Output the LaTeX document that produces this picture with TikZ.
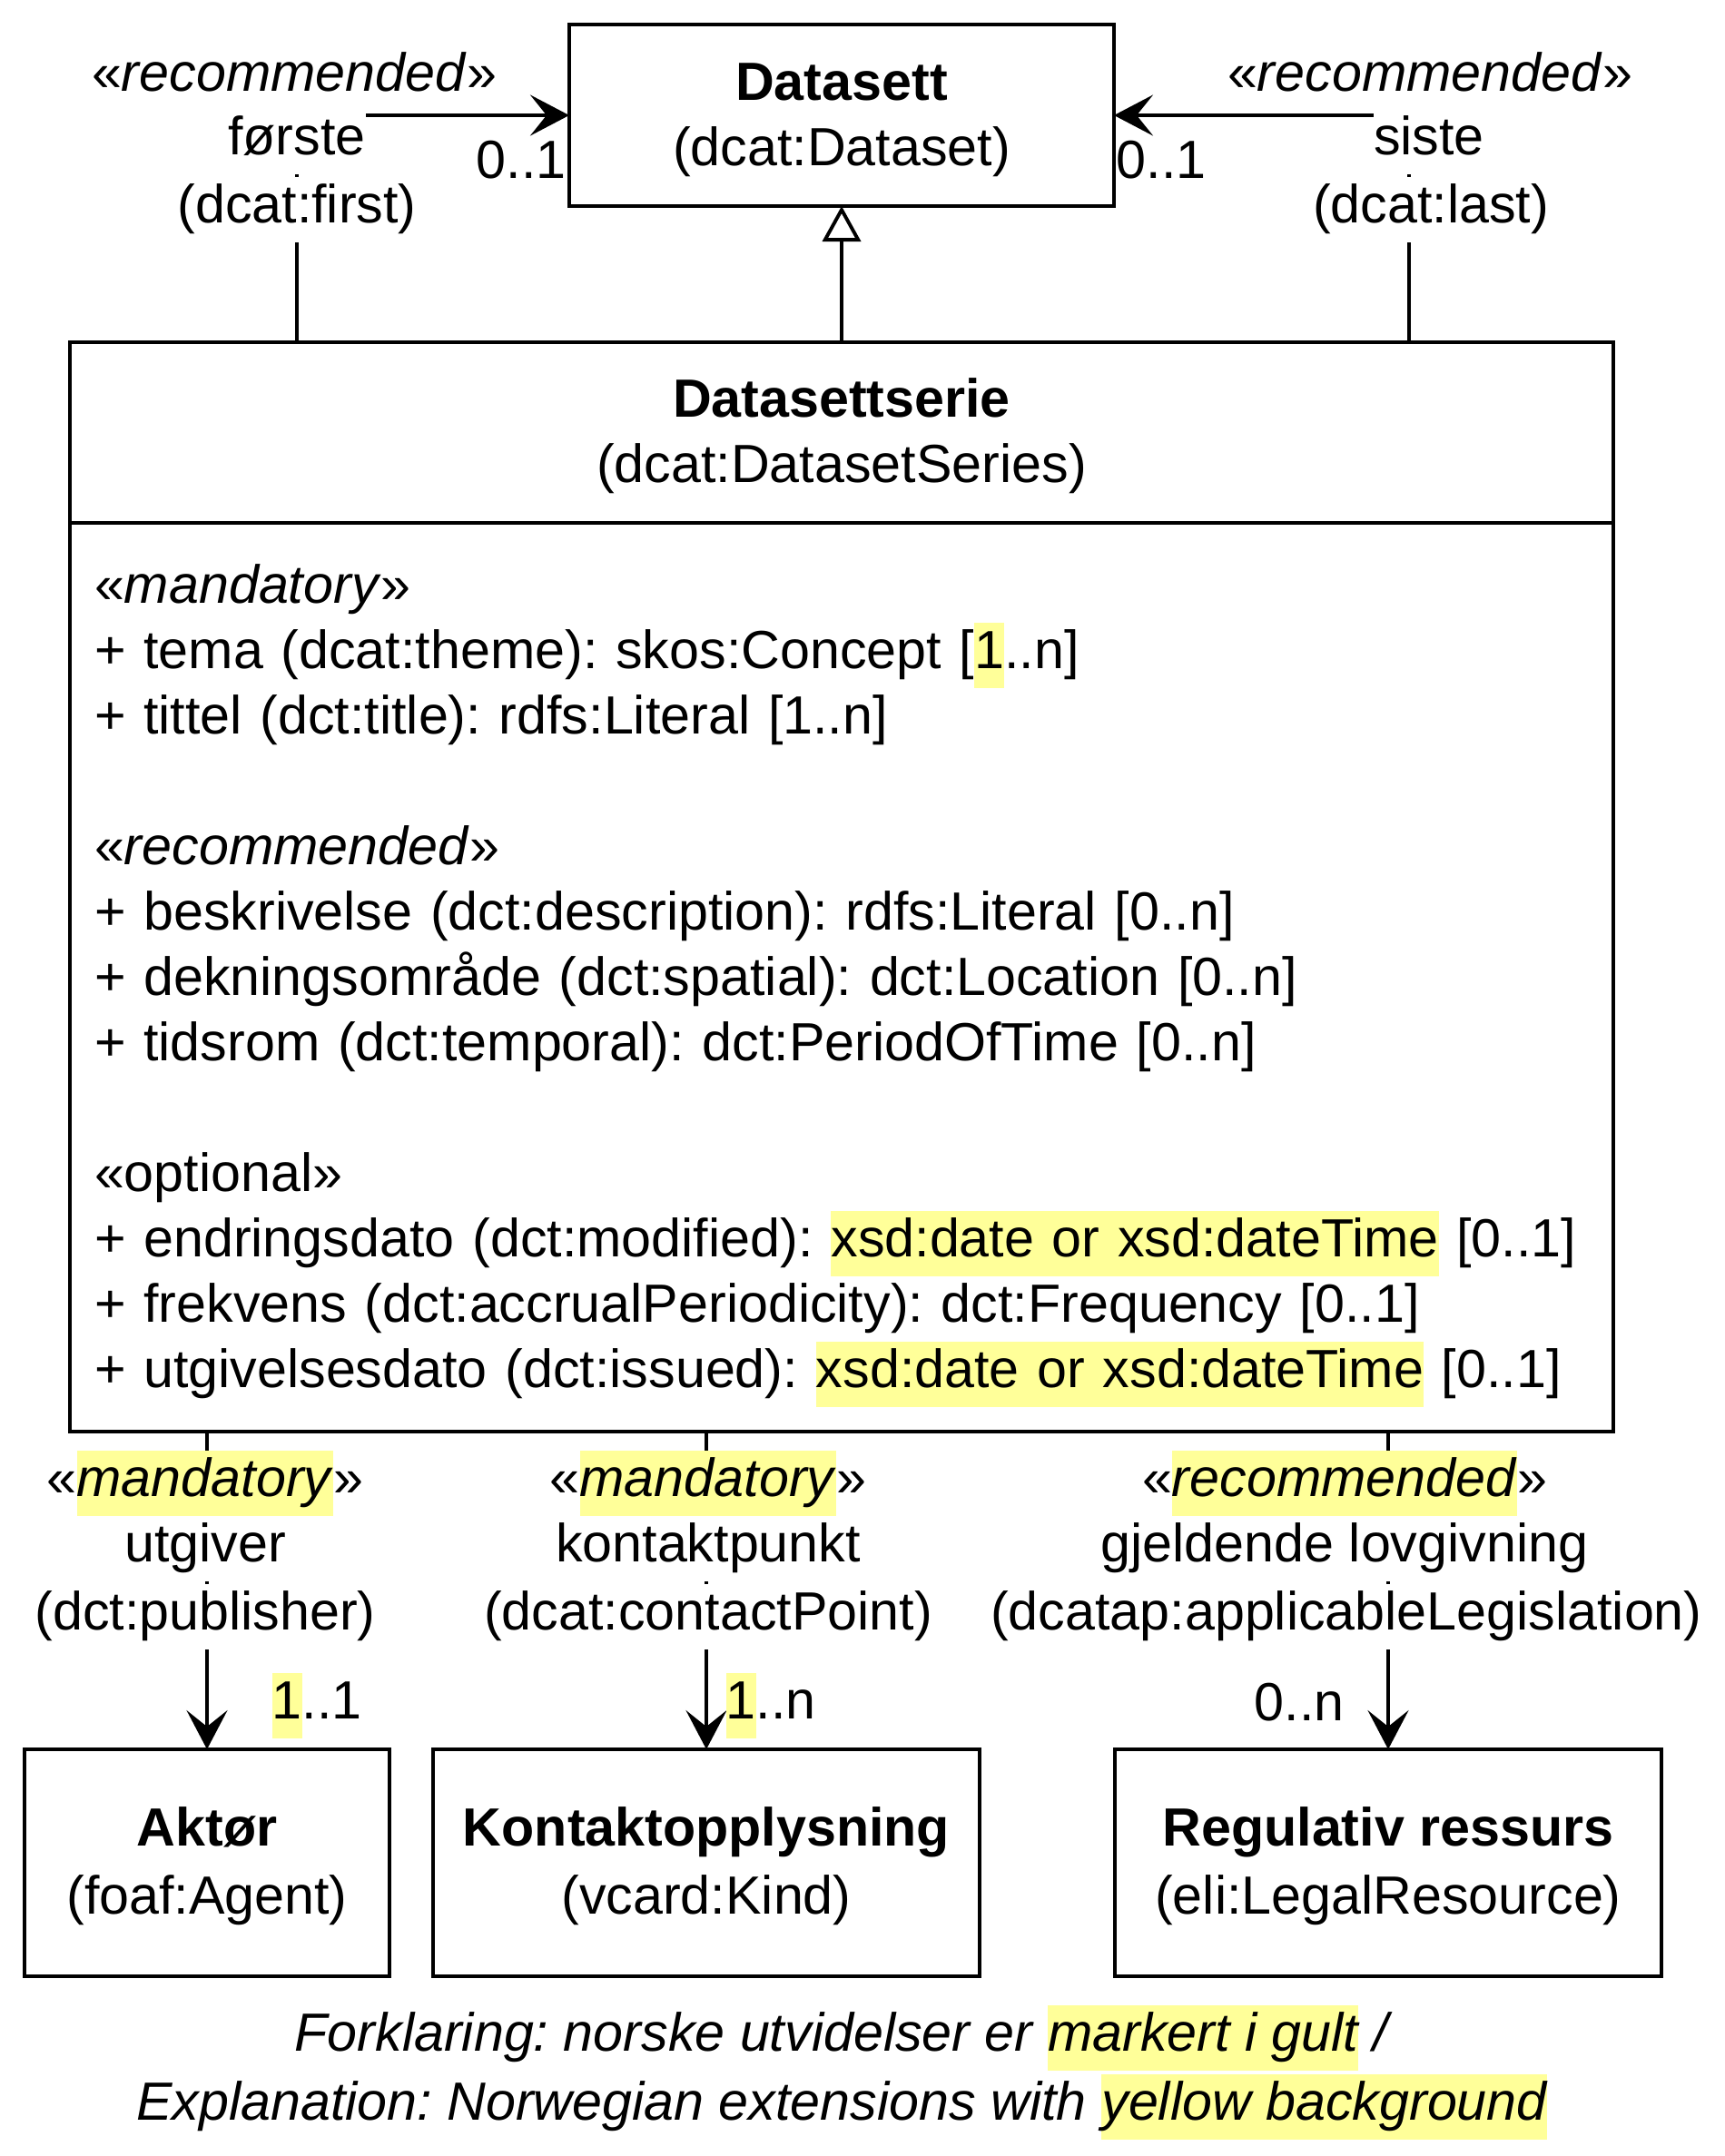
\documentclass[tikz,border=0pt]{standalone}
\usepackage{fontspec}
\setmainfont{Liberation Sans}
\frenchspacing
\usetikzlibrary{arrows.meta,positioning}
\definecolor{Hilite}{HTML}{FFFF99}
\newcommand{\hlt}[1]{{\setlength{\fboxsep}{0pt}\colorbox{Hilite}{\strut#1}}}
\newcommand{\topstrut}{\rule{0pt}{\dimexpr0.7\baselineskip+0.11cm\relax}}
\tikzset{
  classbox/.style={draw,line width=1.15pt,fill=white,align=center,inner sep=0pt,outer sep=0pt},
  assoc/.style={line width=1.1pt,-{Stealth[length=4.3mm,width=4.5mm,inset=1.8mm]}},
  generalize/.style={line width=1.1pt,-{Triangle[open,length=3.9mm,width=4.2mm]}},
  rolelbl/.style={fill=white,inner sep=0pt,align=center},
  mult/.style={inner sep=0pt}
}

\begin{document}
\begin{tikzpicture}[font=\fontsize{16.85pt}{20.5pt}\selectfont]
  \useasboundingbox (0,0) rectangle (19,-23.75);
  \node[classbox,minimum width=6cm,minimum height=2cm] (datasett) at (9.27,-1.27) {\strut\textbf{Datasett}\\(dcat:Dataset)};
  \node[classbox,minimum width=17cm,minimum height=1.99cm] (hdr) at (9.27,-4.765) {\strut\textbf{Datasettserie}\\(dcat:DatasetSeries)};
  \node[classbox,minimum width=17cm,minimum height=10.01cm,text width=16.46cm,inner xsep=0.27cm,align=left,anchor=north] (body) at (hdr.south) {%
    \topstrut«\textit{mandatory}»\\
    + tema (dcat:theme): skos:Concept [\hlt{1}..n]\\
    + tittel (dct:title): rdfs:Literal [1..n]\\[20.5pt]
    «\textit{recommended}»\\
    + beskrivelse (dct:description): rdfs:Literal [0..n]\\
    + dekningsområde (dct:spatial): dct:Location [0..n]\\
    + tidsrom (dct:temporal): dct:PeriodOfTime [0..n]\\[20.5pt]
    «optional»\\
    + endringsdato (dct:modified): \hlt{xsd:date or xsd:dateTime} [0..1]\\
    + frekvens (dct:accrualPeriodicity): dct:Frequency [0..1]\\
    + utgivelsesdato (dct:issued): \hlt{xsd:date or xsd:dateTime} [0..1]\strut};
  \node[classbox,minimum width=4.02cm,minimum height=2.5cm] (aktor) at (2.28,-20.52) {\strut\textbf{Aktør}\\[0.75pt](foaf:Agent)};
  \node[classbox,minimum width=6.02cm,minimum height=2.5cm] (kontakt) at (7.78,-20.52) {\strut\textbf{Kontaktopplysning}\\[0.75pt](vcard:Kind)};
  \node[classbox,minimum width=6.02cm,minimum height=2.5cm] (regulativ) at (15.29,-20.52) {\strut\textbf{Regulativ ressurs}\\[0.75pt](eli:LegalResource)};

  \coordinate (firstbend) at (3.27,-1.26);
  \coordinate (lastbend) at (15.52,-1.26);
  \draw[generalize] (hdr.north) -- (datasett.south);
  \draw[assoc] (hdr.north -| firstbend) |- (datasett.west);
  \draw[assoc] (hdr.north -| lastbend) |- (datasett.east);
  \draw[assoc] (body.south -| aktor) -- (aktor);
  \draw[assoc] (body.south -| kontakt) -- (kontakt);
  \draw[assoc] (body.south -| regulativ) -- (regulativ);

  \node (recfirst) at (3.24,-0.86) {\strut«\textit{recommended}»};
  \node[rolelbl] (forste) at (3.27,-1.56) {\strut første};
  \node[rolelbl] (firstprop) at (3.27,-2.31) {\strut(dcat:first)};
  \node[mult] (multfirst) at (5.74,-1.82) {\strut 0..1};
  \node (reclast) at (15.75,-0.86) {\strut«\textit{recommended}»};
  \node[rolelbl] (siste) at (15.74,-1.56) {\strut siste};
  \node[rolelbl] (lastprop) at (15.76,-2.31) {\strut(dcat:last)};
  \node[mult] (multlast) at (12.79,-1.82) {\strut 0..1};

  \node[rolelbl] (pubrole) at (2.26,-16.70) {\strut«\hlt{\textit{mandatory}}»\\\strut utgiver};
  \node[rolelbl] (pubprop) at (2.26,-17.81) {\strut(dct:publisher)};
  \node[mult] (pubmult) at (3.49,-18.79) {\hlt{1}..1};
  \node[rolelbl] (cprole) at (7.80,-16.70) {\strut«\hlt{\textit{mandatory}}»\\\strut kontaktpunkt};
  \node[rolelbl] (cpprop) at (7.80,-17.81) {\strut(dcat:contactPoint)};
  \node[mult] (cpmult) at (8.49,-18.79) {\hlt{1}..n};
  \node[rolelbl] (legrole) at (14.81,-16.70) {\strut«\hlt{\textit{recommended}}»\\\strut gjeldende lovgivning};
  \node[rolelbl] (legprop) at (14.83,-17.81) {\strut(dcatap:applicableLegislation)};
  \node[mult] (legmult) at (14.31,-18.81) {\strut 0..n};

  \node[align=center,font=\fontsize{16.85pt}{20.5pt}\selectfont\itshape] (legend) at (9.27,-22.83) {Forklaring: norske utvidelser er \hlt{markert i gult} /\\[1pt]Explanation: Norwegian extensions with \hlt{yellow background}};
\end{tikzpicture}
\end{document}
